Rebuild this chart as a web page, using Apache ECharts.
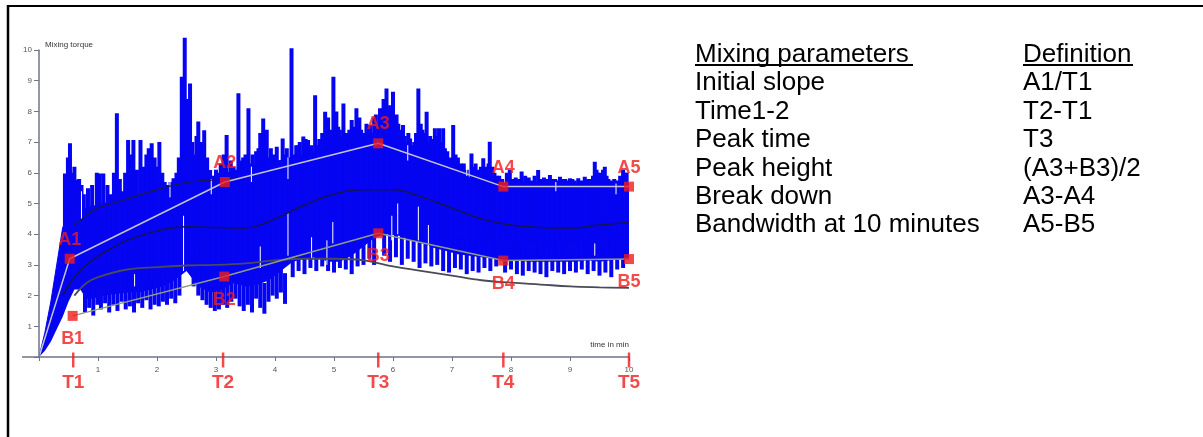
<!DOCTYPE html>
<html>
<head>
<meta charset="utf-8">
<style>
  html, body { margin: 0; padding: 0; background: #fff; }
  #main { width: 1203px; height: 437px; }
</style>
</head>
<body>
<div id="main"></div>
<script src="https://cdn.jsdelivr.net/npm/echarts@6/dist/echarts.min.js"></script>
<script type="text/javascript">
// mixograph trace (time in min, torque)
var upperT = [0, 0.1, 0.2, 0.3, 0.4, 0.5, 0.7, 0.9, 1.1, 1.3, 1.5, 1.7, 1.9, 2.1, 2.3, 2.5, 2.7, 2.9, 3.1, 3.3, 3.5, 3.7, 3.9, 4.1, 4.3, 4.5, 4.7, 4.9, 5.1, 5.3, 5.5, 5.7, 5.9, 6.1, 6.3, 6.5, 6.7, 6.9, 7.1, 7.3, 7.5, 7.7, 7.9, 8.1, 8.3, 8.5, 8.7, 8.9, 9.1, 9.3, 9.5, 9.7, 9.9, 10];
var upperV = [0, 0.8, 1.8, 3.0, 4.2, 4.7, 4.8, 4.9, 5.0, 5.1, 5.15, 5.2, 5.3, 5.4, 5.5, 5.65, 5.75, 5.85, 5.95, 6.05, 6.2, 6.3, 6.35, 6.4, 6.5, 6.6, 6.65, 6.75, 6.85, 6.95, 7.0, 7.05, 7.0, 6.85, 6.65, 6.5, 6.35, 6.15, 6.0, 5.85, 5.75, 5.7, 5.65, 5.7, 5.65, 5.7, 5.65, 5.7, 5.65, 5.65, 5.7, 5.65, 5.7, 5.65];

var lowerT = [0, 0.1, 0.2, 0.3, 0.4, 0.5, 0.6, 0.7, 0.8, 0.9, 1.1, 1.3, 1.5, 1.7, 1.9, 2.1, 2.3, 2.5, 2.7, 2.9, 3.1, 3.3, 3.5, 3.7, 3.9, 4.1, 4.3, 4.5, 4.7, 4.9, 5.1, 5.3, 5.5, 5.7, 5.9, 6.1, 6.3, 6.5, 6.7, 6.9, 7.1, 7.3, 7.5, 7.7, 7.9, 8.1, 8.3, 8.5, 8.7, 8.9, 9.1, 9.3, 9.5, 9.7, 9.9, 10];
var lowerV = [0, 0.2, 0.5, 0.9, 1.3, 1.8, 2.2, 2.2, 1.9, 1.9, 2.0, 2.05, 2.1, 2.1, 2.2, 2.3, 2.5, 2.8, 2.3, 2.1, 2.2, 2.4, 2.3, 2.35, 2.5, 2.8, 3.1, 3.2, 3.25, 3.1, 3.1, 3.3, 3.6, 3.9, 4.0, 3.95, 3.8, 3.7, 3.55, 3.45, 3.35, 3.3, 3.25, 3.2, 3.15, 3.15, 3.1, 3.1, 3.1, 3.1, 3.1, 3.15, 3.1, 3.15, 3.2, 3.2];

// tall peaks of the trace
var spikeT = [0.44, 0.49, 0.525, 0.56, 0.64, 0.72, 0.98, 1.03, 1.09, 1.32, 1.42, 1.51, 1.56, 1.6, 1.72, 1.86, 1.91, 1.96, 2.04, 2.09, 2.18, 2.28, 2.37, 2.42, 2.47, 2.52, 2.56, 2.62, 2.67, 2.7, 2.76, 2.8, 2.9, 3.0, 3.08, 3.13, 3.18, 3.25, 3.38, 3.46, 3.55, 3.62, 3.68, 3.75, 3.8, 3.86, 3.93, 4.03, 4.13, 4.2, 4.28, 4.36, 4.42, 4.48, 4.52, 4.56, 4.62, 4.68, 4.75, 4.8, 4.85, 4.9, 4.99, 5.04, 5.1, 5.16, 5.22, 5.3, 5.34, 5.38, 5.43, 5.5, 5.61, 5.68, 5.74, 5.78, 5.84, 5.89, 5.95, 6.0, 6.06, 6.12, 6.17, 6.23, 6.29, 6.36, 6.43, 6.5, 6.57, 6.63, 6.71, 6.78, 6.85, 6.92, 7.02, 7.1, 7.2, 7.33, 7.4, 7.53, 7.58, 7.64, 7.72, 7.8, 7.93, 7.98, 8.08, 8.18, 8.3, 8.4, 8.46, 8.56, 8.66, 8.75, 8.83, 8.92, 9.0, 9.08, 9.14, 9.25, 9.35, 9.42, 9.47, 9.53, 9.59, 9.65, 9.8, 9.9, 9.96];
var spikeV = [5.98, 6.5, 6.96, 6.0, 5.77, 5.6, 6.0, 5.98, 5.98, 7.94, 5.4, 7.07, 6.6, 7.07, 7.07, 6.8, 6.96, 6.5, 7.0, 6.0, 5.6, 5.82, 6.5, 9.13, 10.4, 8.4, 8.91, 6.6, 7.2, 7.67, 7.0, 7.39, 6.09, 6.1, 6.3, 6.6, 7.23, 6.4, 8.59, 6.5, 8.1, 6.6, 6.7, 7.3, 7.77, 7.4, 6.8, 6.85, 7.12, 6.8, 10.06, 6.9, 7.0, 7.18, 7.1, 7.07, 6.9, 8.53, 7.1, 7.3, 7.99, 7.8, 9.13, 8.0, 7.4, 8.26, 7.3, 7.72, 7.5, 8.1, 7.8, 7.3, 7.56, 7.8, 7.5, 8.1, 8.4, 8.75, 8.2, 8.64, 7.9, 7.4, 7.56, 7.0, 7.12, 7.0, 8.75, 7.4, 7.99, 7.2, 7.45, 7.45, 7.45, 6.7, 7.56, 6.5, 6.3, 6.63, 6.3, 6.47, 6.2, 7.01, 6.0, 5.9, 6.0, 6.09, 5.85, 6.04, 5.85, 5.9, 6.09, 5.85, 5.93, 5.8, 5.87, 5.8, 5.82, 5.75, 5.82, 5.87, 5.8, 6.36, 6.0, 5.85, 6.2, 5.8, 5.75, 6.09, 6.0];

// shorter peaks between the tall ones
var smallT = [0.6, 0.68, 0.76, 0.83, 0.9, 1.16, 1.22, 1.27, 1.37, 1.46, 1.66, 1.78, 1.82, 2.0, 2.13, 2.23, 2.33, 2.6, 2.85, 2.95, 3.04, 3.22, 3.3, 3.42, 3.5, 3.58, 3.72, 3.9, 3.98, 4.08, 4.17, 4.24, 4.32, 4.4, 4.6, 4.72, 4.95, 5.07, 5.13, 5.19, 5.26, 5.46, 5.55, 5.65, 5.71, 5.81, 5.92, 5.98, 6.03, 6.09, 6.2, 6.26, 6.33, 6.39, 6.47, 6.54, 6.6, 6.67, 6.75, 6.82, 6.88, 6.97, 7.06, 7.15, 7.25, 7.37, 7.45, 7.49, 7.62, 7.68, 7.76, 7.85, 8.02, 8.13, 8.24, 8.35, 8.51, 8.61, 8.7, 8.79, 8.87, 8.96, 9.04, 9.2, 9.3, 9.39, 9.45, 9.5, 9.56, 9.62, 9.7, 9.75, 9.85, 9.93];
var smallV = [6.2, 5.8, 5.3, 5.5, 5.6, 5.6, 5.3, 6.0, 5.8, 6.0, 6.1, 6.2, 6.6, 6.2, 5.7, 5.7, 6.0, 7.0, 6.5, 5.9, 6.0, 6.0, 6.2, 6.4, 6.6, 6.3, 6.8, 6.5, 6.6, 6.4, 6.6, 6.5, 6.6, 6.9, 6.8, 6.9, 7.4, 7.5, 7.2, 7.0, 7.4, 7.4, 7.6, 7.3, 7.9, 7.5, 8.0, 7.7, 7.3, 7.6, 7.2, 7.3, 6.9, 7.3, 7.6, 7.3, 7.0, 7.1, 7.2, 7.0, 6.8, 6.5, 6.6, 6.3, 6.1, 6.2, 6.1, 6.2, 6.3, 6.2, 5.9, 5.8, 5.8, 5.8, 5.9, 5.75, 5.8, 5.8, 5.8, 5.75, 5.8, 5.75, 5.8, 5.75, 5.8, 5.9, 6.1, 6.0, 6.1, 5.9, 5.75, 5.8, 5.9, 6.0];

// downward dips of the trace
var dipT = [0.78, 0.85, 0.92, 0.99, 1.05, 1.12, 1.19, 1.26, 1.33, 1.4, 1.47, 1.54, 1.61, 1.68, 1.75, 1.82, 1.89, 1.96, 2.03, 2.1, 2.17, 2.24, 2.31, 2.38, 2.62, 2.7, 2.77, 2.84, 2.91, 2.98, 3.05, 3.12, 3.19, 3.26, 3.33, 3.4, 3.47, 3.54, 3.61, 3.68, 3.75, 3.82, 3.89, 3.96, 4.03, 4.1, 4.17, 4.3, 4.4, 4.5, 4.6, 4.7, 4.8, 4.9, 5.0, 5.1, 5.2, 5.3, 5.4, 5.5, 5.6, 5.68, 5.85, 5.95, 6.05, 6.15, 6.25, 6.35, 6.45, 6.55, 6.65, 6.75, 6.85, 6.95, 7.05, 7.15, 7.25, 7.35, 7.45, 7.55, 7.65, 7.75, 7.9, 8.0, 8.1, 8.2, 8.3, 8.4, 8.5, 8.6, 8.7, 8.8, 8.9, 9.0, 9.1, 9.2, 9.3, 9.4, 9.5, 9.6, 9.7, 9.8, 9.9];
var dipV = [1.45, 1.6, 1.35, 1.7, 1.55, 1.75, 1.45, 1.7, 1.5, 1.8, 1.55, 1.65, 1.45, 1.75, 1.6, 1.85, 1.55, 1.7, 1.65, 1.8, 1.7, 1.9, 1.75, 2.0, 2.3, 2.0, 1.85, 1.7, 1.6, 1.5, 1.55, 1.7, 1.6, 1.8, 1.9, 1.65, 1.5, 1.7, 1.45, 1.9, 1.6, 1.41, 1.8, 2.0, 1.9, 2.1, 1.73, 2.6, 2.8, 2.7, 2.9, 2.8, 2.95, 2.8, 2.75, 2.9, 2.85, 2.7, 2.95, 3.0, 3.2, 3.0, 3.3, 3.1, 3.25, 3.0, 3.2, 3.1, 2.9, 3.05, 2.95, 3.0, 2.8, 2.75, 2.9, 2.85, 2.7, 2.8, 2.75, 2.9, 2.8, 2.95, 2.75, 2.85, 2.7, 2.65, 2.8, 2.75, 2.7, 2.6, 2.8, 2.75, 2.7, 2.8, 2.75, 2.85, 2.7, 2.8, 2.65, 2.75, 2.6, 2.85, 2.9];

// thin white gaps inside the band: time, from, to
var gapT = [0.72, 1.62, 2.22, 2.45, 2.92, 3.6, 3.75, 4.22, 4.22, 4.62, 4.88, 4.98, 5.98, 6.08, 6.25, 6.43, 6.6, 7.25, 8.76, 9.42, 9.78];
var gapFrom = [4.5, 2.3, 5.2, 2.8, 5.3, 5.7, 2.9, 3.3, 5.8, 3.2, 3.0, 3.7, 3.8, 4.0, 6.4, 3.8, 3.6, 5.9, 5.4, 3.3, 5.3];
var gapTo = [5.4, 2.7, 5.7, 4.6, 5.8, 6.2, 3.6, 4.7, 6.5, 3.9, 3.8, 4.4, 4.6, 5.0, 6.9, 4.9, 4.3, 6.3, 5.7, 3.7, 5.65];

// smoothed curves
var midT = [0.4, 0.6, 0.8, 1.1, 1.5, 2.0, 2.5, 3.0, 3.5, 4.0, 4.5, 5.0, 5.5, 6.0, 6.5, 7.0, 7.5, 8.0, 8.5, 9.0, 9.5, 10];
var midV = [2.0, 2.6, 3.0, 3.4, 3.8, 4.1, 4.24, 4.22, 4.2, 4.5, 4.95, 5.3, 5.45, 5.45, 5.2, 4.85, 4.5, 4.3, 4.22, 4.2, 4.3, 4.38];
var topDarkT = [0.6, 0.8, 1.0, 1.5, 2.0, 2.5, 3.0, 3.4];
var topDarkV = [4.3, 4.6, 4.85, 5.15, 5.45, 5.68, 5.78, 5.85];
var lowDarkT = [0.6, 0.8, 1.0, 1.5, 2.0, 2.5, 3.0, 3.5, 4.0, 4.5, 5.0, 5.5, 6.0, 6.5, 7.0, 7.5, 8.0, 8.5, 9.0, 9.5, 10];
var lowDarkV = [2.0, 2.4, 2.6, 2.85, 2.93, 2.98, 3.0, 3.05, 3.15, 3.2, 3.2, 3.15, 2.95, 2.8, 2.65, 2.5, 2.42, 2.36, 2.3, 2.27, 2.25];

// marked points
var aNames = ['A1', 'A2', 'A3', 'A4', 'A5'];
var aT = [0.52, 3.15, 5.75, 7.87, 10.0];
var aV = [3.2, 5.7, 6.96, 5.55, 5.55];
var bNames = ['B1', 'B2', 'B3', 'B4', 'B5'];
var bT = [0.57, 3.14, 5.75, 7.87, 10.0];
var bV = [1.34, 2.62, 4.03, 3.14, 3.19];
var tNames = ['T1', 'T2', 'T3', 'T4', 'T5'];
var tT = [0.58, 3.12, 5.75, 7.87, 10.0];

var paramNames = ['Initial slope', 'Time1-2', 'Peak time', 'Peak height', 'Break down', 'Bandwidth at 10 minutes'];
var paramDefs = ['A1/T1', 'T2-T1', 'T3', '(A3+B3)/2', 'A3-A4', 'A5-B5'];

var BLUE = '#0505f2';
var RED = '#f01c1c';
var FONT = '"Liberation Sans", Arial, sans-serif';

function zip(ts, vs) {
    return ts.map(function (t, i) { return [t, vs[i]]; });
}
function named(names, ts, vs) {
    return names.map(function (n, i) { return { name: n, value: [ts[i], vs[i]] }; });
}

var myChart = echarts.init(document.getElementById('main'));

// frame and the table on the right
var graphics = [
    { type: 'line', shape: { x1: 7, y1: 6, x2: 1203, y2: 6 }, style: { stroke: '#000', lineWidth: 2 } },
    { type: 'line', shape: { x1: 8, y1: 5, x2: 8, y2: 437 }, style: { stroke: '#000', lineWidth: 2.5 } },
    { type: 'line', shape: { x1: 22, y1: 357, x2: 39, y2: 357 }, style: { stroke: '#6c7488', lineWidth: 1.5 } },
    { type: 'text', x: 695, y: 55, style: { text: 'Mixing parameters', font: '26px ' + FONT, fill: '#000', textVerticalAlign: 'middle', verticalAlign: 'middle' } },
    { type: 'text', x: 1023, y: 55, style: { text: 'Definition', font: '26px ' + FONT, fill: '#000', textVerticalAlign: 'middle', verticalAlign: 'middle' } },
    { type: 'rect', shape: { x: 695, y: 64, width: 218, height: 2 }, style: { fill: '#000' } },
    { type: 'rect', shape: { x: 1023, y: 64, width: 110, height: 2 }, style: { fill: '#000' } }
];
paramNames.forEach(function (n, i) {
    var y = 83.3 + i * 28.35;
    graphics.push({ type: 'text', x: 695, y: y, style: { text: n, font: '26px ' + FONT, fill: '#000', textVerticalAlign: 'middle', verticalAlign: 'middle' } });
    graphics.push({ type: 'text', x: 1023, y: y, style: { text: paramDefs[i], font: '26px ' + FONT, fill: '#000', textVerticalAlign: 'middle', verticalAlign: 'middle' } });
});

function peakRect(params, api) {
    var top = api.coord([api.value(0), api.value(1)]);
    var bot = api.coord([api.value(0), 0]);
    return { type: 'rect', shape: { x: top[0] - 2, y: top[1], width: 4, height: bot[1] - top[1] }, style: { fill: BLUE } };
}

var option = {
    animation: false,
    backgroundColor: '#fff',
    grid: { left: 39, top: 50, width: 590, height: 307 },
    xAxis: {
        type: 'value', min: 0, max: 10, interval: 1, z: 6,
        name: 'time in min', nameLocation: 'end', nameGap: 0,
        nameTextStyle: { fontSize: 8, color: '#333', align: 'right', verticalAlign: 'bottom', padding: [0, 0, 8, 0], fontFamily: FONT },
        axisLine: { lineStyle: { color: '#6c7488', width: 1.5 } },
        axisTick: { length: 4, lineStyle: { color: '#6c7488' } },
        axisLabel: { fontSize: 8, color: '#555', margin: 9, fontFamily: FONT,
            formatter: function (v) { return v === 0 ? '' : v; } },
        splitLine: { show: false }
    },
    yAxis: {
        type: 'value', min: 0, max: 10, interval: 1, z: 6,
        name: 'Mixing torque', nameLocation: 'end', nameGap: 1,
        nameTextStyle: { fontSize: 8, color: '#333', align: 'left', padding: [0, 0, 0, 6], fontFamily: FONT },
        axisLine: { show: true, lineStyle: { color: '#6c7488', width: 1.5 } },
        axisTick: { show: true, length: 5, lineStyle: { color: '#6c7488' } },
        axisLabel: { fontSize: 8, color: '#555', margin: 7, fontFamily: FONT,
            formatter: function (v) { return v === 0 ? '' : v; } },
        splitLine: { show: false }
    },
    graphic: graphics,
    series: [
        {
            name: 'upper', type: 'line', data: zip(upperT, upperV), symbol: 'none', z: 1,
            lineStyle: { color: BLUE, width: 1 }, areaStyle: { color: BLUE, opacity: 1 }
        },
        {
            name: 'peaks', type: 'custom', z: 1, clip: false, renderItem: peakRect, encode: { x: 0, y: 1 },
            data: zip(spikeT, spikeV).concat(zip(smallT, smallV))
        },
        {
            name: 'lower', type: 'line', data: zip(lowerT, lowerV), symbol: 'none', z: 2,
            lineStyle: { opacity: 0 }, areaStyle: { color: '#fff', opacity: 1 }
        },
        {
            name: 'dips', type: 'custom', z: 3, data: zip(dipT, dipV), encode: { x: 0, y: 1 },
            renderItem: function (params, api) {
                var bot = api.coord([api.value(0), api.value(1)]);
                var top = api.coord([api.value(0), api.value(1) + 1.0]);
                return { type: 'rect', shape: { x: bot[0] - 2, y: top[1], width: 4, height: bot[1] - top[1] }, style: { fill: BLUE } };
            }
        },
        {
            name: 'gaps', type: 'custom', z: 3,
            data: gapT.map(function (t, i) { return [t, gapFrom[i], gapTo[i]]; }),
            encode: { x: 0, y: [1, 2] },
            renderItem: function (params, api) {
                var p1 = api.coord([api.value(0), api.value(1)]);
                var p2 = api.coord([api.value(0), api.value(2)]);
                return { type: 'line', shape: { x1: p1[0], y1: p1[1], x2: p2[0], y2: p2[1] }, style: { stroke: '#fff', lineWidth: 1 } };
            }
        },
        {
            name: 'mid', type: 'line', data: zip(midT, midV), symbol: 'none', smooth: 0.4, z: 4,
            lineStyle: { color: '#141450', width: 1.5 }
        },
        {
            name: 'topDark', type: 'line', data: zip(topDarkT, topDarkV), symbol: 'none', smooth: 0.4, z: 4,
            lineStyle: { color: '#1a1a4a', width: 1.2 }
        },
        {
            name: 'lowDark', type: 'line', data: zip(lowDarkT, lowDarkV), symbol: 'none', smooth: 0.4, z: 4,
            lineStyle: { color: '#4a4a58', width: 1.8 }
        },
        {
            name: 'aLine', type: 'line', data: [[0, 0]].concat(zip(aT, aV)), symbol: 'none', z: 4,
            lineStyle: { color: '#c4c4d4', width: 1.5 }
        },
        {
            name: 'bLine', type: 'line', data: zip(bT, bV), symbol: 'none', z: 4,
            lineStyle: { color: '#8f9c86', width: 1.5 }
        },
        {
            name: 'A', type: 'scatter', data: named(aNames, aT, aV), symbol: 'rect', symbolSize: 10, z: 5, clip: false,
            itemStyle: { color: RED },
            label: { show: true, position: 'top', distance: 5, formatter: '{b}', color: RED, fontSize: 18, fontWeight: 'bold', fontFamily: FONT }
        },
        {
            name: 'B', type: 'scatter', data: named(bNames, bT, bV), symbol: 'rect', symbolSize: 10, z: 5, clip: false,
            itemStyle: { color: RED },
            label: { show: true, position: 'bottom', distance: 9, formatter: '{b}', color: RED, fontSize: 18, fontWeight: 'bold', fontFamily: FONT }
        },
        {
            name: 'T', type: 'scatter', data: named(tNames, tT, tT.map(function () { return 0; })),
            symbol: 'rect', symbolSize: [2.5, 15], symbolOffset: [0, 3], z: 7, clip: false,
            itemStyle: { color: RED },
            label: { show: true, position: 'bottom', distance: 6, formatter: '{b}', color: RED, fontSize: 19, fontWeight: 'bold', fontFamily: FONT }
        }
    ]
};

myChart.setOption(option);
</script>
</body>
</html>
